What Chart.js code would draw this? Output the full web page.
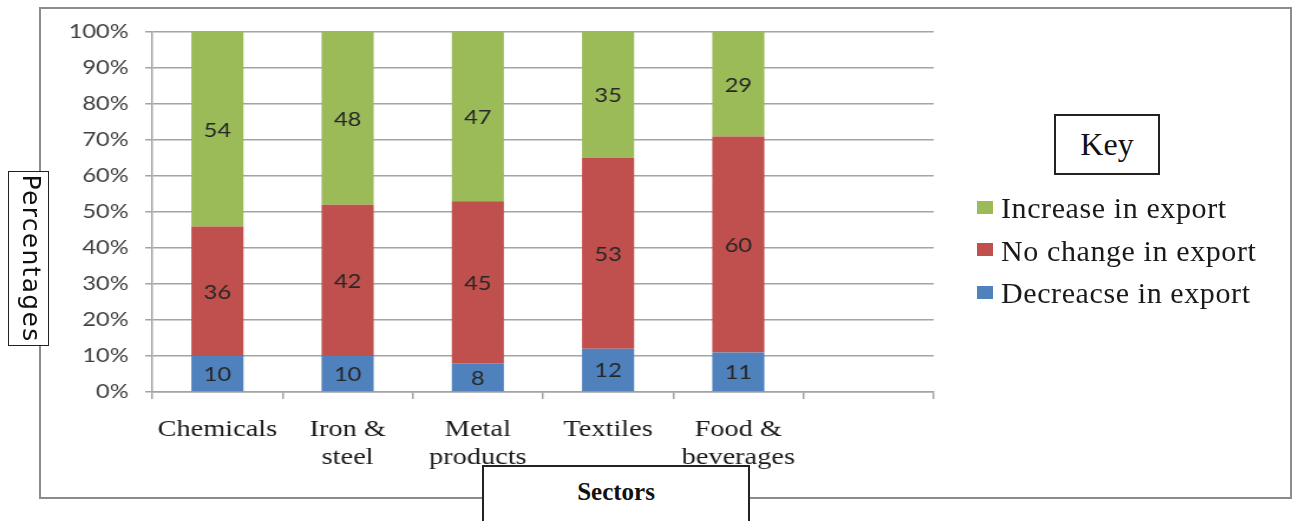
<!DOCTYPE html>
<html>
<head>
<meta charset="utf-8">
<title>Sectors</title>
<script src="https://cdn.jsdelivr.net/npm/chart.js@4.4.1/dist/chart.umd.min.js"></script>
<style>
    html, body { margin: 0; padding: 0; background: #fff; }
    #page { position: relative; width: 1296px; height: 521px; overflow: hidden; background: #fff; }
    #frame { position: absolute; left: 39px; top: 7px; width: 1249px; height: 488px; border: 2px solid #8c8c8c; }
    /* the chart is laid out narrow and widened to the page width */
    #stretch { position: absolute; left: 0; top: 0; width: 1098px; height: 521px; transform: scaleX(1.18033); transform-origin: 0 0; }
    .box { position: absolute; background: #fff; border: 2px solid #222; box-sizing: border-box; }
    #yTitleBox { left: 8px; top: 171px; width: 41px; height: 175px; border-width: 1.5px; }
    #yTitle { position: absolute; left: -59px; top: 238px; width: 175px; height: 41px; line-height: 41px; text-align: center;
              font-family: 'DejaVu Sans'; font-size: 25px; letter-spacing: 1.3px; color: #111;
              transform: rotate(90deg) translateY(-3px); }
    #keyBox { left: 1054px; top: 114px; width: 106px; height: 61px; text-align: center;
              font-family: 'Liberation Serif'; font-size: 32px; line-height: 57px; color: #111; }
    #xTitleBox { left: 482px; top: 465px; width: 268px; height: 80px; text-align: center; padding-top: 10px;
                 font-family: 'Liberation Serif'; font-weight: bold; font-size: 25px; line-height: 30px; color: #111; }
    #legend { position: absolute; left: 977px; top: 187px; font-family: 'Liberation Serif'; font-size: 30px; letter-spacing: 0.6px; color: #1a1a1a; }
    .legend-row { position: relative; height: 42.5px; line-height: 42.5px; white-space: nowrap; }
    .legend-swatch { position: absolute; left: 0; top: 13.5px; width: 16px; height: 13px; }
    .legend-text { position: absolute; left: 24px; top: 0; }
</style>
</head>
<body>
<div id="page">
    <div id="frame"></div>
    <div id="stretch"><canvas id="exportChart" width="1098" height="521"></canvas></div>
    <div id="keyBox" class="box">Key</div>
    <div id="legend"></div>
    <div id="yTitleBox" class="box"></div>
    <div id="yTitle">Percentages</div>
    <div id="xTitleBox" class="box">Sectors</div>
</div>

<script>
// sectors on the x axis (last slot is left empty)
const sectors = [['Chemicals'], ['Iron &', 'steel'], ['Metal', 'products'], ['Textiles'], ['Food &', 'beverages'], ''];

// percentage of firms per sector
const decreaseValues = [10, 10, 8, 12, 11];
const noChangeValues = [36, 42, 45, 53, 60];
const increaseValues = [54, 48, 47, 35, 29];

const seriesNames = ['Decreacse in export', 'No change in export', 'Increase in export'];
const seriesColors = ['#4f81bd', '#c0504d', '#9bbb59'];

const yTickMax = 100;
const yTickStep = 10;

const gridColor = '#a3a3a3';

// writes each value in the middle of its segment
const segmentLabels = {
    id: 'segmentLabels',
    afterDatasetsDraw(chart) {
        const ctx = chart.ctx;
        ctx.save();
        ctx.font = '20px Lato';
        ctx.fillStyle = '#262626';
        ctx.textAlign = 'center';
        ctx.textBaseline = 'middle';
        chart.data.datasets.forEach((ds, i) => {
            const meta = chart.getDatasetMeta(i);
            meta.data.forEach((bar, j) => {
                const value = ds.data[j];
                if (value === null || value === undefined) return;
                ctx.fillText(String(value), bar.x, (bar.y + bar.base) / 2 + 1);
            });
        });
        ctx.restore();
    }
};

const exportChart = new Chart(document.getElementById('exportChart'), {
    type: 'bar',
    data: {
        labels: sectors,
        datasets: [
            { label: seriesNames[0], data: decreaseValues, backgroundColor: seriesColors[0] },
            { label: seriesNames[1], data: noChangeValues, backgroundColor: seriesColors[1] },
            { label: seriesNames[2], data: increaseValues, backgroundColor: seriesColors[2] }
        ]
    },
    options: {
        responsive: false,
        animation: false,
        barPercentage: 0.4,
        categoryPercentage: 1,
        layout: { padding: { top: 32, right: 307, left: 0, bottom: 0 } },
        plugins: {
            legend: { display: false },
            tooltip: { enabled: false }
        },
        scales: {
            x: {
                stacked: true,
                grid: { drawOnChartArea: false, drawTicks: true, tickLength: 7, color: gridColor, lineWidth: 1.5 },
                border: { display: true, color: gridColor, width: 1.5 },
                ticks: {
                    autoSkip: false,
                    maxRotation: 0,
                    padding: 17,
                    color: '#1a1a1a',
                    font: { family: 'Liberation Serif', size: 24, lineHeight: 1.16 }
                },
                afterFit: function (scale) { scale.height = 129; }
            },
            y: {
                stacked: true,
                min: 0,
                max: yTickMax,
                grid: { color: gridColor, lineWidth: 1.5, tickLength: 6 },
                border: { color: gridColor, width: 1.5 },
                ticks: {
                    stepSize: yTickStep,
                    padding: 14,
                    color: '#404040',
                    font: { family: 'Lato', size: 20 },
                    callback: function (v) { return v + '%'; }
                },
                afterFit: function (scale) { scale.width = 129; }
            }
        }
    },
    plugins: [segmentLabels]
});

// key entries, top to bottom in reverse stacking order
const legendBox = document.getElementById('legend');
exportChart.data.datasets.slice().reverse().forEach(function (ds) {
    const row = document.createElement('div');
    row.className = 'legend-row';
    const swatch = document.createElement('span');
    swatch.className = 'legend-swatch';
    swatch.style.background = ds.backgroundColor;
    const text = document.createElement('span');
    text.className = 'legend-text';
    text.textContent = ds.label;
    row.appendChild(swatch);
    row.appendChild(text);
    legendBox.appendChild(row);
});
</script>
</body>
</html>
